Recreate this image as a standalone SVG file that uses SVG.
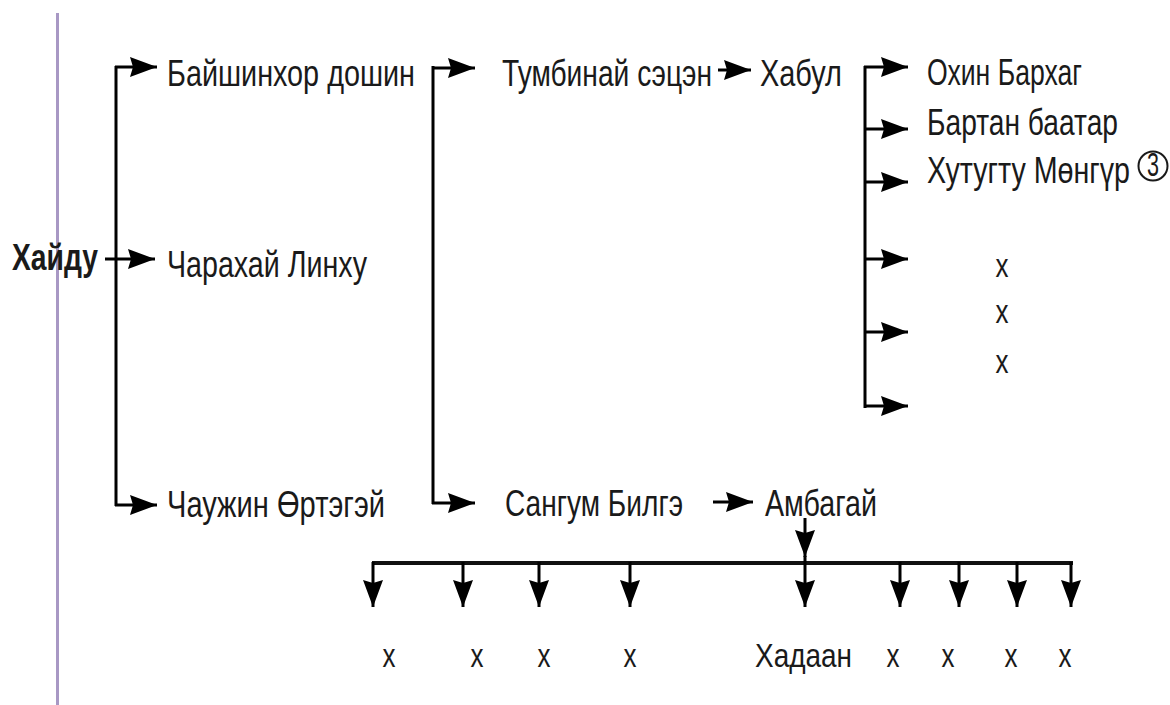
<svg xmlns="http://www.w3.org/2000/svg" width="1170" height="705" viewBox="0 0 1170 705">
<defs>
<marker id="ah" viewBox="0 0 27 22" refX="27" refY="11" markerWidth="27" markerHeight="22" markerUnits="userSpaceOnUse" orient="auto">
<path d="M0,1 L27,11 L0,21 L3,11 z" fill="#000"/>
</marker>
<style>
.t{font-family:"Liberation Sans",Arial,sans-serif;font-size:36px;fill:#1a1a1a;}
.s{font-family:"Liberation Sans",Arial,sans-serif;font-size:33px;fill:#1a1a1a;}
.b{font-weight:bold;}
.ln{stroke:#000;stroke-width:3;fill:none;}
.ar{stroke:#000;stroke-width:3;fill:none;marker-end:url(#ah);}
</style>
</defs>
<rect width="1170" height="705" fill="#fff"/>
<line x1="57.5" y1="13" x2="57.5" y2="705" stroke="#a898c4" stroke-width="3"/>

<g id="connectors">
<line class="ln" x1="116" y1="66" x2="116" y2="506"/>
<line class="ar" x1="115" y1="67" x2="157" y2="67"/>
<line class="ar" x1="105" y1="259" x2="155" y2="259"/>
<line class="ar" x1="115" y1="505" x2="157" y2="505"/>
<line class="ln" x1="433" y1="66" x2="433" y2="504"/>
<line class="ar" x1="432" y1="68" x2="475" y2="68"/>
<line class="ar" x1="432" y1="503" x2="475" y2="503"/>
<line class="ar" x1="718" y1="70" x2="751" y2="70"/>
<line class="ar" x1="713" y1="502" x2="753" y2="502"/>
<line class="ln" x1="865" y1="66" x2="865" y2="408"/>
<line class="ar" x1="864" y1="67" x2="908" y2="67"/>
<line class="ar" x1="864" y1="129" x2="908" y2="129"/>
<line class="ar" x1="864" y1="182" x2="908" y2="182"/>
<line class="ar" x1="864" y1="259" x2="908" y2="259"/>
<line class="ar" x1="864" y1="332" x2="908" y2="332"/>
<line class="ar" x1="864" y1="406" x2="908" y2="406"/>
<line class="ar" x1="805" y1="518" x2="805" y2="557"/>
<line x1="372" y1="563" x2="1073" y2="563" stroke="#111" stroke-width="4"/>
<line class="ar" x1="373" y1="562" x2="373" y2="607"/>
<line class="ar" x1="463" y1="562" x2="463" y2="607"/>
<line class="ar" x1="539" y1="562" x2="539" y2="607"/>
<line class="ar" x1="630" y1="562" x2="630" y2="607"/>
<line class="ar" x1="805" y1="556" x2="805" y2="607"/>
<line class="ar" x1="900" y1="562" x2="900" y2="607"/>
<line class="ar" x1="959" y1="562" x2="959" y2="607"/>
<line class="ar" x1="1017" y1="562" x2="1017" y2="607"/>
<line class="ar" x1="1071" y1="562" x2="1071" y2="607"/>
</g>

<g id="n-khaidu"><text class="t b" x="12" y="270" textLength="86" lengthAdjust="spacingAndGlyphs">Хайду</text></g>
<g id="n-baishinkhor"><text class="t" x="167" y="86" textLength="248" lengthAdjust="spacingAndGlyphs">Байшинхор дошин</text></g>
<g id="n-charakhai"><text class="t" x="167" y="277" textLength="200" lengthAdjust="spacingAndGlyphs">Чарахай Линху</text></g>
<g id="n-chauzhin"><text class="t" x="167" y="517" textLength="218" lengthAdjust="spacingAndGlyphs">Чаужин Өртэгэй</text></g>
<g id="n-tumbinai"><text class="t" x="502" y="86" textLength="210" lengthAdjust="spacingAndGlyphs">Тумбинай сэцэн</text></g>
<g id="n-khabul"><text class="t" x="760" y="86" textLength="82" lengthAdjust="spacingAndGlyphs">Хабул</text></g>
<g id="n-sangum"><text class="t" x="505" y="516" textLength="178" lengthAdjust="spacingAndGlyphs">Сангум Билгэ</text></g>
<g id="n-ambagai"><text class="t" x="765" y="516" textLength="112" lengthAdjust="spacingAndGlyphs">Амбагай</text></g>
<g id="n-okhin"><text class="t" x="927" y="85" textLength="155" lengthAdjust="spacingAndGlyphs">Охин Бархаг</text></g>
<g id="n-bartan"><text class="t" x="927" y="135" textLength="191" lengthAdjust="spacingAndGlyphs">Бартан баатар</text></g>
<g id="n-khutugtu"><text class="t" x="927" y="183" textLength="203" lengthAdjust="spacingAndGlyphs">Хутугту Мөнгүр</text>
<circle cx="1153" cy="166" r="14.5" fill="none" stroke="#1a1a1a" stroke-width="2"/>
<text class="s" x="1153" y="176" text-anchor="middle" font-size="26" textLength="12" lengthAdjust="spacingAndGlyphs">3</text></g>
<g id="n-x-right">
<text class="s" x="1002" y="277" text-anchor="middle" textLength="13" lengthAdjust="spacingAndGlyphs">x</text>
<text class="s" x="1002" y="323" text-anchor="middle" textLength="13" lengthAdjust="spacingAndGlyphs">x</text>
<text class="s" x="1002" y="373" text-anchor="middle" textLength="13" lengthAdjust="spacingAndGlyphs">x</text>
</g>
<g id="n-bottom">
<text class="s" x="389" y="667" text-anchor="middle" textLength="13" lengthAdjust="spacingAndGlyphs">x</text>
<text class="s" x="477" y="667" text-anchor="middle" textLength="13" lengthAdjust="spacingAndGlyphs">x</text>
<text class="s" x="544" y="667" text-anchor="middle" textLength="13" lengthAdjust="spacingAndGlyphs">x</text>
<text class="s" x="630" y="667" text-anchor="middle" textLength="13" lengthAdjust="spacingAndGlyphs">x</text>
<text class="s" x="755" y="667" textLength="97" lengthAdjust="spacingAndGlyphs">Хадаан</text>
<text class="s" x="893" y="667" text-anchor="middle" textLength="13" lengthAdjust="spacingAndGlyphs">x</text>
<text class="s" x="948" y="667" text-anchor="middle" textLength="13" lengthAdjust="spacingAndGlyphs">x</text>
<text class="s" x="1011" y="667" text-anchor="middle" textLength="13" lengthAdjust="spacingAndGlyphs">x</text>
<text class="s" x="1065" y="667" text-anchor="middle" textLength="13" lengthAdjust="spacingAndGlyphs">x</text>
</g>
</svg>
